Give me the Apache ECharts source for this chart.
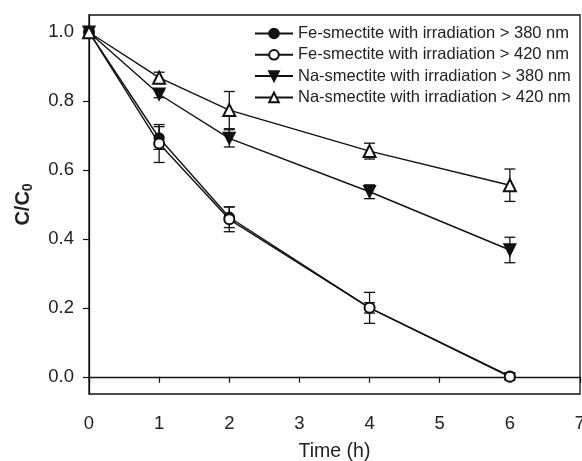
<!DOCTYPE html>
<html><head><meta charset="utf-8">
<script src="https://cdn.jsdelivr.net/npm/echarts@6/dist/echarts.min.js"></script>
<style>html,body{margin:0;padding:0;background:#fff}#c{width:582px;height:461px}</style>
</head><body><div id="c"></div>
<script>
const time = [0, 1, 2, 4, 6];
const seriesNames = [
  'Fe-smectite with irradiation > 380 nm',
  'Fe-smectite with irradiation > 420 nm',
  'Na-smectite with irradiation > 380 nm',
  'Na-smectite with irradiation > 420 nm'
];
const fe380 = [1.0, 0.693, 0.463, 0.200, 0.002];
const fe380Err = [0, 0.033, 0.030, 0.015, 0.010];
const fe420 = [1.0, 0.677, 0.457, 0.200, 0.0];
const fe420Err = [0, 0.055, 0.036, 0.045, 0.010];
const na380 = [1.0, 0.820, 0.692, 0.537, 0.368];
const na380Err = [0, 0.010, 0.025, 0.020, 0.037];
const na420 = [1.0, 0.868, 0.774, 0.655, 0.556];
const na420Err = [0, 0.016, 0.054, 0.023, 0.047];
const yTicks = [0.0, 0.2, 0.4, 0.6, 0.8, 1.0];
const xTicks = [0, 1, 2, 3, 4, 5, 6, 7];

const font = 'Liberation Sans, Arial, sans-serif';
const chart = echarts.init(document.getElementById('c'));
const downTri = 'path://M0,0 L10,0 L5,9 Z';

function lineSeries(name, vals, symbol, size) {
  return {
    name: name, type: 'line', data: time.map((t, i) => [t, vals[i]]),
    symbol: symbol, symbolSize: size, showSymbol: true, clip: false,
    lineStyle: {color: '#111', width: 1.4},
    itemStyle: {color: '#111', borderColor: '#111', borderWidth: 1.3},
    z: 3, animation: false
  };
}
function errSeries(vals, errs) {
  return {
    type: 'custom', z: 2, animation: false, silent: true, clip: false,
    data: time.map((t, i) => [t, vals[i], errs[i]]).filter(d => d[2] > 0),
    renderItem: function (params, api) {
      const x = api.value(0), y = api.value(1), e = api.value(2);
      const top = api.coord([x, y + e]), bot = api.coord([x, y - e]);
      const h = 5.5;
      const st = {stroke: '#111', lineWidth: 1.3};
      return {type: 'group', children: [
        {type: 'line', shape: {x1: top[0], y1: top[1], x2: bot[0], y2: bot[1]}, style: st},
        {type: 'line', shape: {x1: top[0] - h, y1: top[1], x2: top[0] + h, y2: top[1]}, style: st},
        {type: 'line', shape: {x1: bot[0] - h, y1: bot[1], x2: bot[0] + h, y2: bot[1]}, style: st}
      ]};
    }
  };
}

chart.setOption({
  animation: false,
  textStyle: {fontFamily: font},
  grid: {left: 89, right: 2, top: 15, bottom: 67, show: true, borderColor: '#111', borderWidth: 1.3,
    outerBoundsMode: 'none', containLabel: false},
  legend: {
    orient: 'vertical', left: 249, top: 20, itemWidth: 38, itemHeight: 12, itemGap: 4.3,
    data: seriesNames,
    textStyle: {fontFamily: font, fontSize: 16.5, color: '#222'}
  },
  xAxis: {
    type: 'value', min: 0, max: 7, interval: 1,
    name: 'Time (h)', nameLocation: 'middle', nameGap: 48,
    nameTextStyle: {fontFamily: font, fontSize: 19.5, color: '#222'},
    axisLine: {lineStyle: {color: '#111', width: 1.3}},
    axisTick: {inside: false, length: 6, lineStyle: {color: '#111', width: 1.2}},
    axisLabel: {fontFamily: font, fontSize: 18.5, color: '#222', margin: 20,
      customValues: xTicks, formatter: v => String(v)},
    splitLine: {show: false}
  },
  yAxis: {
    type: 'value', min: -0.05, max: 1.05,
    name: '{a|C/C}{b|0}', nameLocation: 'middle', nameGap: 54, nameRotate: 90,
    nameTextStyle: {rich: {
      a: {fontFamily: font, fontSize: 20, fontWeight: 'bold', color: '#222'},
      b: {fontFamily: font, fontSize: 14, fontWeight: 'bold', color: '#222', verticalAlign: 'bottom', padding: [9, 0, 0, 0]}
    }},
    axisLine: {lineStyle: {color: '#111', width: 1.3}},
    axisTick: {inside: false, length: 6, customValues: yTicks, lineStyle: {color: '#111', width: 1.2}},
    axisLabel: {fontFamily: font, fontSize: 18.5, color: '#222', margin: 15,
      customValues: yTicks, formatter: v => v.toFixed(1)},
    splitLine: {show: false}
  },
  series: [
    errSeries(fe380, fe380Err), errSeries(fe420, fe420Err),
    errSeries(na380, na380Err), errSeries(na420, na420Err),
    lineSeries(seriesNames[0], fe380, 'circle', 10),
    lineSeries(seriesNames[1], fe420, 'emptyCircle', 10),
    lineSeries(seriesNames[2], na380, downTri, 12),
    lineSeries(seriesNames[3], na420, 'emptyTriangle', 12)
  ]
});
</script></body></html>
